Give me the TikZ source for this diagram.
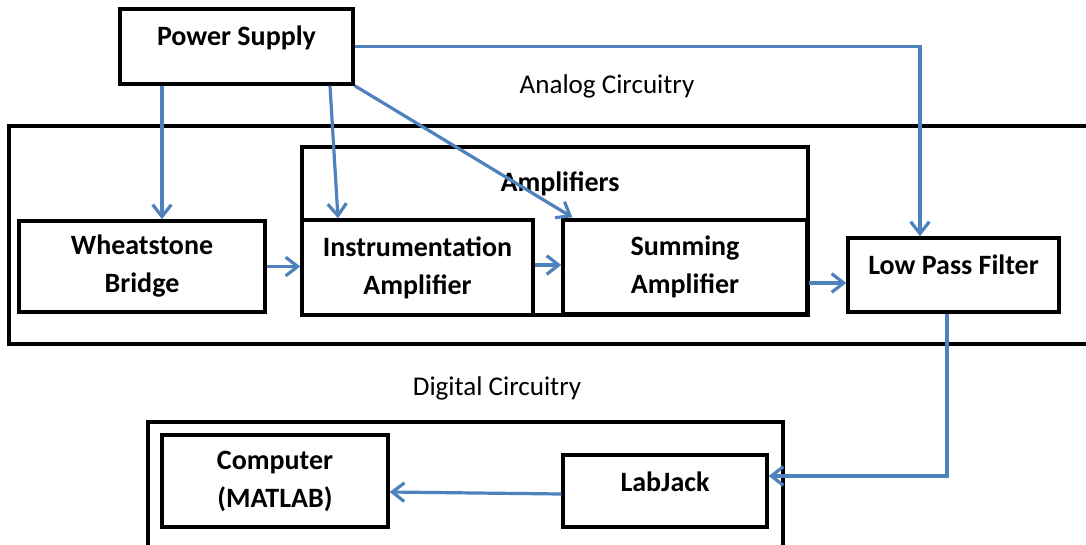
\documentclass[tikz,border=0pt]{standalone}
\usepackage{fontspec}
\setmainfont{Carlito}
\usetikzlibrary{arrows.meta,calc}
\definecolor{arrblue}{HTML}{4F81BD}
\tikzset{
  box/.style={draw=black, line width=2.6pt, inner sep=0pt, align=center,
    font=\bfseries\fontsize{21}{28.5}\selectfont},
  lbl/.style={inner sep=0pt, align=center, font=\bfseries\fontsize{21}{28.5}\selectfont},
  plain/.style={inner sep=0pt, font=\fontsize{20.3}{24}\selectfont},
  frame/.style={draw=black, line width=2.6pt},
  arr/.style={draw=arrblue, line width=2.4pt,
    -{Straight Barb[length=9pt,width=14pt,line width=2.4pt]}},
}
\begin{document}
\begin{tikzpicture}[x=0.75pt,y=-0.75pt]
\useasboundingbox (0,0) rectangle (1086,545);
% frames
\draw[frame] (1095,126) -- (9,126) -- (9,344) -- (1095,344);
\draw[frame] (148,560) -- (148,422) -- (783,422) -- (783,560);
\node[plain] (analogtxt) at (607,86) {Analog Circuitry};
\node[plain] (digitaltxt) at (497,388) {Digital Circuitry};
% boxes
\node[box, minimum width=174.75pt, minimum height=56.25pt] (ps) at (236.5,46.5) {};
\node[lbl] (pstxt) at (236.5,38) {Power Supply};
\node[box, minimum width=184.5pt, minimum height=68.25pt] (wb) at (142,266.5) {Wheatstone\\Bridge};
\node[box, minimum width=379.5pt, minimum height=126pt] (amp) at (555,231) {};
\node[lbl] (amptxt) at (560,184) {Amplifiers};
\node[box, minimum width=173.25pt, minimum height=71.25pt] (ins) at (417.5,267.5) {Instrumentation\\Amplifier};
\node[box, minimum width=183pt, minimum height=70.5pt] (sum) at (685,267) {Summing\\Amplifier};
\node[box, minimum width=158.25pt, minimum height=55.5pt] (lpf) at (953.5,275) {};
\node[lbl] (lpftxt) at (953.5,265) {Low Pass Filter};
\node[box, minimum width=169.5pt, minimum height=69pt] (comp) at (275,481) {Computer\\(MATLAB)};
\node[box, minimum width=153pt, minimum height=54pt] (lj) at (665,491) {};
\node[lbl] (ljtxt) at (665,482) {LabJack};
% connectors
\draw[arr] (ps.south -| 162,0) -- (wb.north -| 162,0);
\draw[arr] (ps.south -| 330,0) -- (ins.north -| 338,0);
\draw[arr] (ps.south east) -- ($(sum.north west)+(11,-1)$);
\draw[arr] (ps.east) -| (lpf.north -| 920,0);
\draw[arr] (wb.east) -- (ins.west |- wb.east);
\draw[arr] (ins.east |- 0,265) -- (sum.west |- 0,265);
\draw[arr] (sum.east |- 0,283) -- (lpf.west |- 0,283);
\draw[arr] (lpf.south -| 947,0) |- (lj.east |- 0,476);
\draw[arr] (lj.west |- 0,494) -- (comp.east |- 0,492);
\end{tikzpicture}
\end{document}
